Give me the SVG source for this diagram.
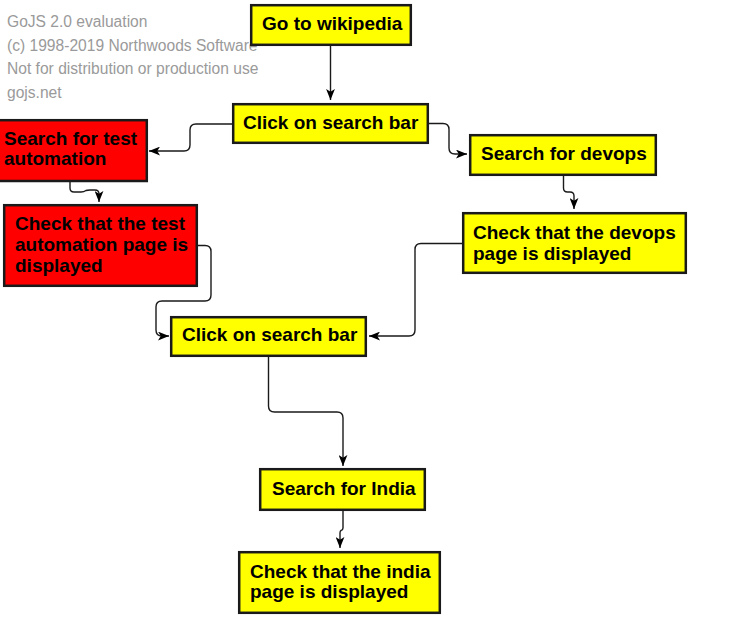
<svg xmlns="http://www.w3.org/2000/svg" width="734" height="621" viewBox="0 0 734 621">
<style>
.wm{font-family:"Liberation Sans",Arial,sans-serif;font-size:15.6px;fill:#9a9a9a}
.box{stroke:#1a1a1a;stroke-width:2.5}
.y{fill:#ffff00}
.r{fill:#ff0000}
.t{font-family:"Liberation Sans",Arial,sans-serif;font-size:19px;font-weight:bold;fill:#000}
.lk{fill:none;stroke:#1a1a1a;stroke-width:1.4;marker-end:url(#arr)}
</style>
<defs>
<marker id="arr" viewBox="0 0 10 8" refX="10" refY="4" markerWidth="11" markerHeight="9" markerUnits="userSpaceOnUse" orient="auto">
<path d="M0,0 L10,4 L0,8 L2.5,4 Z" fill="#000"/>
</marker>
</defs>
<rect width="734" height="621" fill="#fff"/>
<g id="watermark">
<text class="wm" x="7" y="27">GoJS 2.0 evaluation</text>
<text class="wm" x="7" y="50.5">(c) 1998-2019 Northwoods Software</text>
<text class="wm" x="7" y="74">Not for distribution or production use</text>
<text class="wm" x="7" y="97.5">gojs.net</text>
</g>
<g id="connectors">
<path class="lk" d="M330.5,46 L330.5,100"/>
<path class="lk" d="M232,124 L196,124 Q190,124 190,130 L190,145 Q190,151 184,151 L149,151"/>
<path class="lk" d="M429,123.5 L443,123.5 Q449,123.5 449,129.5 L449,148 Q449,154 455,154 L467,154"/>
<path class="lk" d="M70,182 L70,188 Q70,192 74,192 L81,192 Q84,192 86,190.5 Q87,190 90,190 L95,190 Q99,190 99,194 L99,202"/>
<path class="lk" d="M563.5,176 L563.5,188 Q563.5,192 567.5,192 L570,192 Q574,192 574,196 L574,209"/>
<path class="lk" d="M462,243.5 L421,243.5 Q415,243.5 415,249.5 L415,330 Q415,336 409,336 L369,336"/>
<path class="lk" d="M198,245.5 L205,245.5 Q211,245.5 211,251.5 L211,295 Q211,301 205,301 L162,301 Q156,301 156,307 L156,330 Q156,336 162,336 L169,336"/>
<path class="lk" d="M268.5,357 L268.5,406 Q268.5,412 274.5,412 L337,412 Q343,412 343,418 L343,466"/>
<path class="lk" d="M343,511 L343,528 Q343,530 341,530.5 Q340,531 340,533 L340,548"/>
</g>
<g id="n1"><rect class="box y" x="251.2" y="5.2" width="159.6" height="39.6"/><text class="t" x="262" y="30">Go to wikipedia</text></g>
<g id="n2"><rect class="box y" x="233.2" y="104.2" width="194.6" height="38.6"/><text class="t" x="243" y="129">Click on search bar</text></g>
<g id="n3"><rect class="box r" x="-3" y="120.2" width="149.8" height="60.8"/><text class="t" x="4" y="145">Search for test</text><text class="t" x="4" y="165">automation</text></g>
<g id="n4"><rect class="box r" x="4.2" y="205.2" width="192.6" height="80.6"/><text class="t" x="15" y="230">Check that the test</text><text class="t" x="15" y="251">automation page is</text><text class="t" x="15" y="272">displayed</text></g>
<g id="n5"><rect class="box y" x="470.2" y="135.2" width="185.6" height="39.6"/><text class="t" x="481" y="160">Search for devops</text></g>
<g id="n6"><rect class="box y" x="463.2" y="213.2" width="222.6" height="59.6"/><text class="t" x="473" y="239">Check that the devops</text><text class="t" x="473" y="260">page is displayed</text></g>
<g id="n7"><rect class="box y" x="171.2" y="317.2" width="194.6" height="38.6"/><text class="t" x="182" y="341">Click on search bar</text></g>
<g id="n8"><rect class="box y" x="260.2" y="469.2" width="164.6" height="40.6"/><text class="t" x="272" y="495">Search for India</text></g>
<g id="n9"><rect class="box y" x="239.2" y="552.2" width="200.6" height="60.6"/><text class="t" x="250" y="578">Check that the india</text><text class="t" x="250" y="598">page is displayed</text></g>
</svg>
